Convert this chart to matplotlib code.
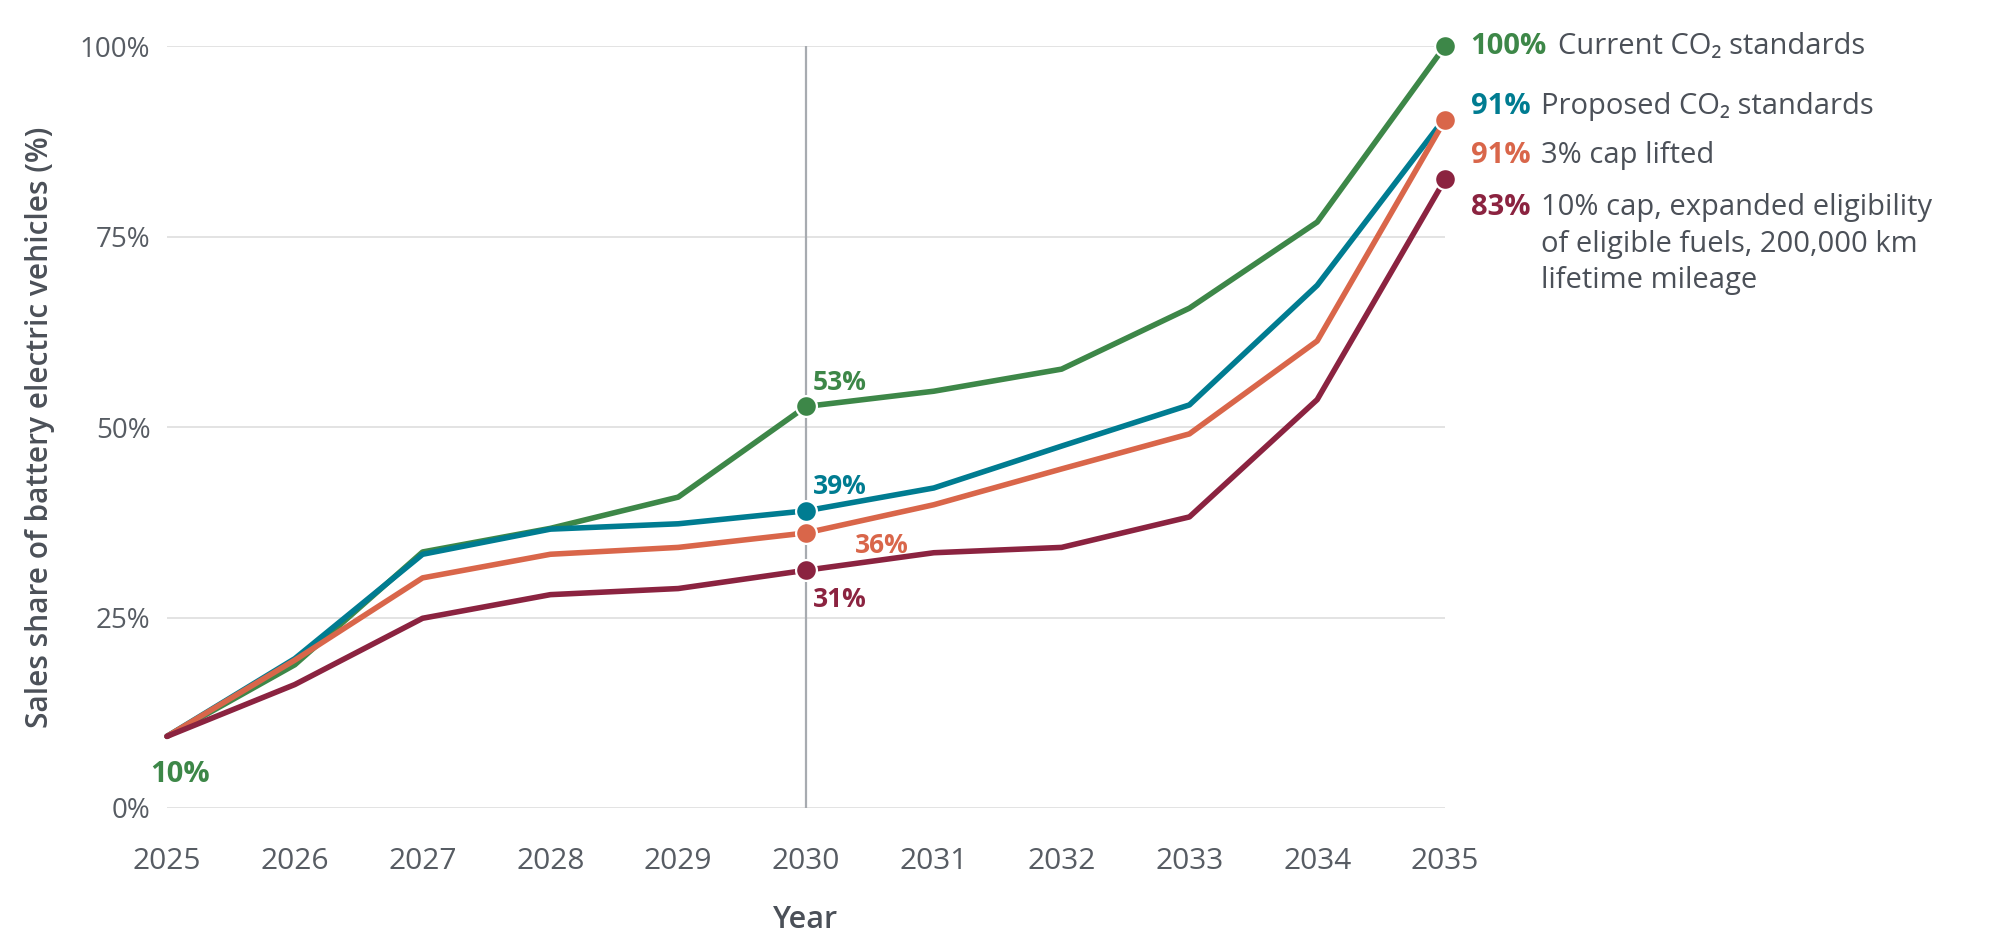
import matplotlib
matplotlib.use('Agg')
import matplotlib.pyplot as plt

plt.rcParams['font.family'] = ['Open Sans', 'DejaVu Sans']

years = [2025, 2026, 2027, 2028, 2029, 2030, 2031, 2032, 2033, 2034, 2035]
current_std = [9.4, 18.8, 33.6, 36.7, 40.8, 52.7, 54.7, 57.6, 65.6, 76.9, 100]
proposed_std = [9.4, 19.6, 33.3, 36.6, 37.3, 39.0, 42.0, 47.5, 52.9, 68.6, 90.6]
cap3_lifted = [9.4, 19.4, 30.2, 33.3, 34.2, 36.1, 39.8, 44.5, 49.1, 61.3, 90.3]
cap10_expanded = [9.4, 16.2, 24.9, 28.0, 28.8, 31.2, 33.5, 34.2, 38.2, 53.6, 82.5]

series_names = ['Current CO₂ standards',
                'Proposed CO₂ standards',
                '3% cap lifted',
                '10% cap, expanded eligibility\nof eligible fuels, 200,000 km\nlifetime mileage']
end_labels = ['100%', '91%', '91%', '83%']
mid_labels = ['53%', '39%', '36%', '31%']
yticks = [0, 25, 50, 75, 100]
ytick_labels = ['0%', '25%', '50%', '75%', '100%']

colors = ['#3d8748', '#007c91', '#d9664a', '#8b2340']
text_gray = '#4b5058'
tick_gray = '#575c63'

fig = plt.figure(figsize=(20, 9.5), dpi=100)
ax = fig.add_axes([0.0835, 0.1495, 0.639, 0.802])

for y in yticks:
    ax.axhline(y, color='#dedede', lw=1.2, zorder=0)
ax.axvline(2030, color='#a7abb0', lw=1.6, zorder=1)

all_series = [current_std, proposed_std, cap3_lifted, cap10_expanded]
for i in range(len(all_series)):
    vals = all_series[i]
    ax.plot(years, vals, color=colors[i], lw=4, zorder=2 + i,
            solid_capstyle='round', clip_on=False)
    # the teal end point sits under the orange one, only its 2030 dot shows
    if i == 1:
        mx, my = [years[5]], [vals[5]]
    else:
        mx, my = [years[5], years[-1]], [vals[5], vals[-1]]
    ax.plot(mx, my, 'o', color=colors[i],
            markersize=15, markeredgecolor='white', markeredgewidth=1.6,
            zorder=6 + i, clip_on=False)

# labels at 2030
ax.text(2030.055, 55.9, mid_labels[0], color=colors[0], fontsize=19,
        fontweight='bold', ha='left', va='center')
ax.text(2030.055, 42.2, mid_labels[1], color=colors[1], fontsize=19,
        fontweight='bold', ha='left', va='center')
ax.text(2030.38, 34.4, mid_labels[2], color=colors[2], fontsize=19,
        fontweight='bold', ha='left', va='center')
ax.text(2030.055, 27.3, mid_labels[3], color=colors[3], fontsize=19,
        fontweight='bold', ha='left', va='center')
ax.text(2025.1, 4.4, '10%', color=colors[0], fontsize=21,
        fontweight='bold', ha='center', va='center')

# end labels on the right
end_y = [99.9, 92.1, 85.6, 78.8]
for i in range(len(end_labels)):
    t = ax.text(2035.2, end_y[i], end_labels[i], color=colors[i], fontsize=21,
                fontweight='bold', ha='left', va='center', clip_on=False)
    ax.annotate(series_names[i], xy=(1, 1), xycoords=t,
                xytext=(8, 0), textcoords='offset points',
                ha='left', va='top', fontsize=21, color=text_gray,
                linespacing=1.35, annotation_clip=False)

ax.set_xlim(2025, 2035)
ax.set_ylim(0, 100)
ax.set_xticks(years)
ax.set_xticklabels([str(y) for y in years])
ax.set_yticks(yticks)
ax.set_yticklabels(ytick_labels)
ax.tick_params(axis='both', length=0, colors=tick_gray)
ax.tick_params(axis='x', pad=28, labelsize=21.5)
ax.tick_params(axis='y', pad=12, labelsize=20)
for s in ax.spines.values():
    s.set_visible(False)

ax.set_xlabel('Year', fontsize=22, fontweight='semibold', color=text_gray)
ax.xaxis.set_label_coords(0.5, -0.128)
ax.set_ylabel('Sales share of battery electric vehicles (%)', fontsize=21.5,
              fontweight='semibold', color=text_gray)
ax.yaxis.set_label_coords(-0.088, 0.5)

fig.savefig('out.png', dpi=100, facecolor='white')
